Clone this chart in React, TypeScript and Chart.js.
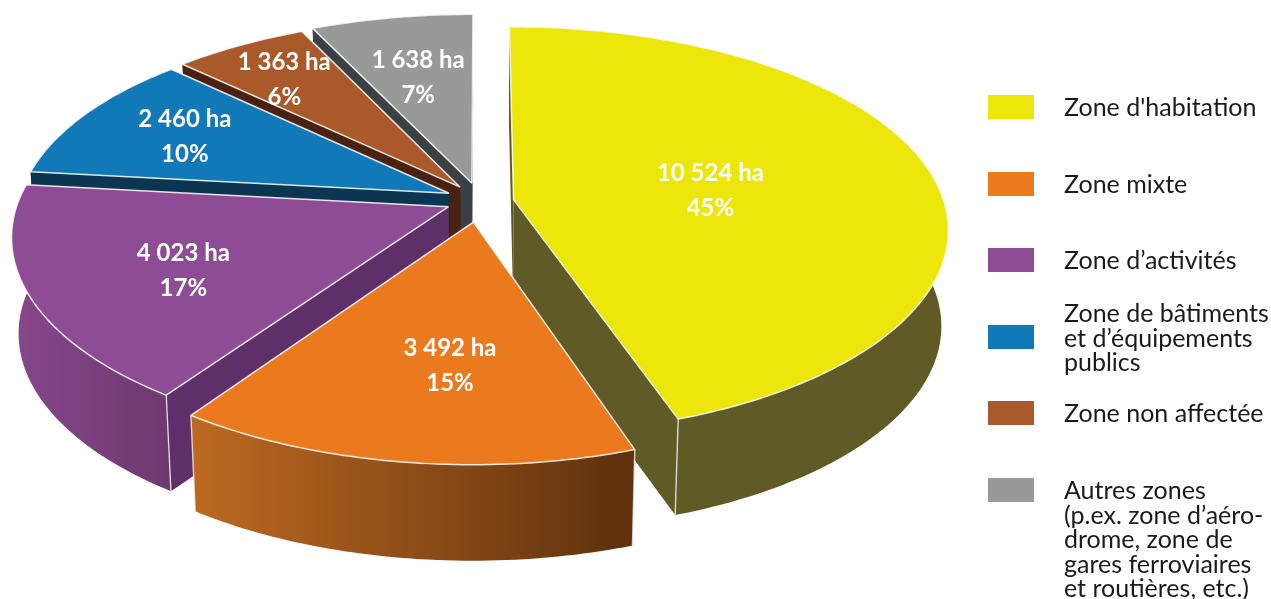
import React, { useEffect, useRef } from "react";
import { Chart, registerables } from "chart.js";

Chart.register(...registerables);

// Land area per zone type, in hectares
const zoneNames = [
  ["Zone d'habitation"],
  ["Zone mixte"],
  ["Zone d’activités"],
  ["Zone de bâtiments", "et d’équipements", "publics"],
  ["Zone non affectée"],
  ["Autres zones", "(p.ex. zone d’aéro-", "drome, zone de", "gares ferroviaires", "et routières, etc.)"],
];
const areaHa = [10524, 3492, 4023, 2460, 1363, 1638];
const percentLabels = [45, 15, 17, 10, 6, 7];

// Slice styling
const topColors = ["#ede60a", "#eb7a1f", "#8e4c95", "#1279b8", "#a9592a", "#999999"];
const cutColors = ["#5f5a26", "#6b3610", "#5f2f69", "#0b3551", "#4a2211", "#3c3f44"];
const rimGradients = [
  ["#5f5a26", "#5f5a26"],
  ["#bd6a22", "#5e300d"],
  ["#87478c", "#6e3970"],
  ["#0b3551", "#0b3551"],
  ["#4a2211", "#4a2211"],
  ["#3c3f44", "#3c3f44"],
];
const explodeBy = [0.078, 0.11, 0.08, 0.08, 0.08, 0.087];
const explodeTurn = [8, 0, 0, 0, 0, 0];
const labelRadius = [0.47, 0.61, 0.65, 0.73, 0.78, 0.64];
const labelTurn = [0, -3.5, -1, 2, 0, 0];
const paintOrder = [5, 4, 3, 2, 0, 1];

// Legend rows: swatch top and first text baseline
const legendSwatchTop = [95, 172, 248, 325, 401, 478];
const legendBaseline = [116, 193, 269, 322, 422, 499];

// Tilted view of the pie: ratios are relative to the arc radius from the layout
const SCALE_X = 2.15;
const SCALE_Y = 0.995;
const PERSPECTIVE_X = 0.14;
const PERSPECTIVE_Y = 0.15;
const THICKNESS = 0.48;
const BASE_SHRINK = 0.985;

type Pt = [number, number];

function formatHa(v: number) {
  return String(v).replace(/\B(?=(\d{3})+$)/g, " ") + " ha";
}

const pie3d = {
  id: "pie3d",
  beforeDatasetDraw() {
    return false;
  },
  afterDatasetsDraw(chart: any) {
    const ctx: CanvasRenderingContext2D = chart.ctx;
    const arcs = chart.getDatasetMeta(0).data;

    const project = (arc: any, u: number, v: number): Pt => [
      arc.x + (SCALE_X * arc.outerRadius * u) / (1 - PERSPECTIVE_X * v),
      arc.y + (SCALE_Y * arc.outerRadius * v) / (1 - PERSPECTIVE_Y * v),
    ];
    const toBase = (arc: any, p: Pt): Pt => [
      arc.x + (p[0] - arc.x) * BASE_SHRINK,
      p[1] + THICKNESS * arc.outerRadius,
    ];

    const geometry = (arc: any, i: number) => {
      const mid = (arc.startAngle + arc.endAngle) / 2;
      const dir = mid + (explodeTurn[i] * Math.PI) / 180;
      const ex = explodeBy[i] * Math.cos(dir);
      const ey = explodeBy[i] * Math.sin(dir);
      const rim: Pt[] = [];
      const steps = Math.max(2, Math.ceil(((arc.endAngle - arc.startAngle) * 180) / Math.PI));
      for (let s = 0; s <= steps; s++) {
        const t = arc.startAngle + ((arc.endAngle - arc.startAngle) * s) / steps;
        rim.push(project(arc, ex + Math.cos(t), ey + Math.sin(t)));
      }
      return { apex: project(arc, ex, ey), rim, ex, ey, mid };
    };

    const fillPath = (pts: Pt[], fill: string | CanvasGradient) => {
      ctx.beginPath();
      pts.forEach((p, k) => (k ? ctx.lineTo(p[0], p[1]) : ctx.moveTo(p[0], p[1])));
      ctx.closePath();
      ctx.fillStyle = fill;
      ctx.fill();
    };
    const strokeLine = (pts: Pt[], color: string, width: number) => {
      ctx.beginPath();
      pts.forEach((p, k) => (k ? ctx.lineTo(p[0], p[1]) : ctx.moveTo(p[0], p[1])));
      ctx.strokeStyle = color;
      ctx.lineWidth = width;
      ctx.stroke();
    };

    ctx.save();
    ctx.lineJoin = "round";
    for (const i of paintOrder) {
      const arc = arcs[i];
      const { apex, rim } = geometry(arc, i);
      const first = rim[0];
      const last = rim[rim.length - 1];
      const b = (p: Pt) => toBase(arc, p);

      // Radial cut faces
      fillPath([apex, first, b(first), b(apex)], cutColors[i]);
      fillPath([apex, last, b(last), b(apex)], cutColors[i]);

      // Outer wall with a left-to-right shade
      const xs = rim.map((p) => p[0]);
      const grad = ctx.createLinearGradient(Math.min(...xs), 0, Math.max(...xs), 0);
      grad.addColorStop(0, rimGradients[i][0]);
      grad.addColorStop(1, rimGradients[i][1]);
      fillPath([...rim, ...rim.map(b).reverse()], grad);

      // Light vertical edges on the corners facing the viewer
      for (const corner of [first, last]) {
        if (corner[1] > arc.y + arc.outerRadius * 0.8) {
          strokeLine([corner, b(corner)], "rgba(255,255,245,0.75)", 1.4);
        }
      }

      // Top face and its pale outline
      fillPath([apex, ...rim], arc.options.backgroundColor);
      strokeLine([apex, ...rim, apex], "rgba(255,255,255,0.85)", 1.5);
    }

    // Value labels on the slices
    ctx.fillStyle = "#ffffff";
    ctx.textAlign = "center";
    ctx.textBaseline = "alphabetic";
    ctx.font = "bold 24px Lato";
    arcs.forEach((arc: any, i: number) => {
      const { ex, ey, mid } = geometry(arc, i);
      const a = mid + (labelTurn[i] * Math.PI) / 180;
      const p = project(
        arc,
        ex + labelRadius[i] * Math.cos(a),
        ey + labelRadius[i] * Math.sin(a)
      );
      ctx.fillText(formatHa(chart.data.datasets[0].data[i]), p[0], p[1] - 4);
      ctx.fillText(percentLabels[i] + "%", p[0], p[1] + 31);
    });

    // Legend on the right
    ctx.textAlign = "left";
    ctx.font = "25px Lato";
    chart.data.labels.forEach((lines: string[], i: number) => {
      ctx.fillStyle = topColors[i];
      ctx.fillRect(988, legendSwatchTop[i], 46, 24);
      ctx.fillStyle = "#1a1a1a";
      lines.forEach((line, k) => ctx.fillText(line, 1064, legendBaseline[i] + k * 24.6));
    });
    ctx.restore();
  },
};

export default function App() {
  const canvasRef = useRef<HTMLCanvasElement | null>(null);

  useEffect(() => {
    const chart = new Chart(canvasRef.current as HTMLCanvasElement, {
      type: "pie",
      data: {
        labels: zoneNames as any,
        datasets: [{ data: areaHa, backgroundColor: topColors, borderWidth: 0 }],
      },
      options: {
        responsive: false,
        animation: false,
        layout: { padding: { left: 10, right: 321, top: 0, bottom: 199 } },
        plugins: { legend: { display: false }, tooltip: { enabled: false } },
      },
      plugins: [pie3d],
    });
    return () => chart.destroy();
  }, []);

  return (
    <div style={{ position: "fixed", left: 0, top: 0, background: "#fff" }}>
      <canvas ref={canvasRef} width={1271} height={599} style={{ display: "block" }} />
    </div>
  );
}
